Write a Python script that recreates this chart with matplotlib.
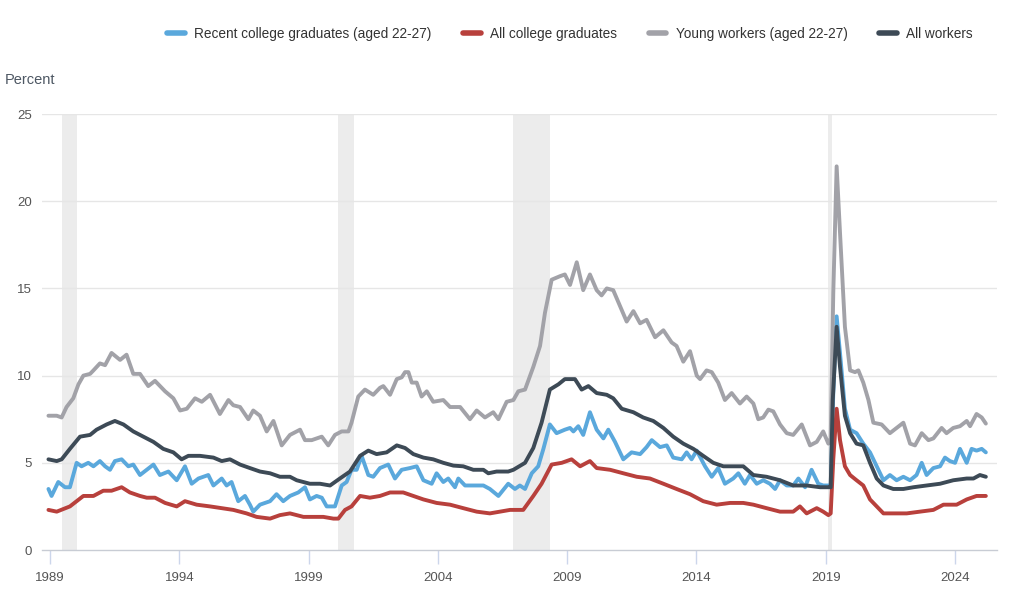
import matplotlib.pyplot as plt

plt.rcParams['font.family'] = ['Liberation Sans', 'DejaVu Sans']

# Data (x in the chart's displayed year units)
grads_years = [1988.94, 1989.06, 1989.32, 1989.58, 1989.77, 1990.03, 1990.22, 1990.48, 1990.68, 1990.93,
               1991.13, 1991.32, 1991.51, 1991.77, 1992.03, 1992.22, 1992.48, 1992.74, 1993.00, 1993.25,
               1993.58, 1993.90, 1994.22, 1994.48, 1994.74, 1995.12, 1995.32, 1995.64, 1995.83, 1996.02,
               1996.28, 1996.54, 1996.73, 1996.86, 1997.12, 1997.51, 1997.76, 1998.02, 1998.28, 1998.60,
               1998.86, 1999.05, 1999.31, 1999.51, 1999.70, 2000.02, 2000.28, 2000.47, 2000.66, 2000.86,
               2001.05, 2001.31, 2001.50, 2001.76, 2002.08, 2002.34, 2002.60, 2002.92, 2003.18, 2003.44,
               2003.76, 2003.95, 2004.21, 2004.40, 2004.66, 2004.79, 2005.05, 2005.44, 2005.76, 2006.01,
               2006.34, 2006.72, 2006.98, 2007.17, 2007.37, 2007.63, 2007.88, 2008.08, 2008.33, 2008.59,
               2008.91, 2009.11, 2009.24, 2009.43, 2009.62, 2009.88, 2010.14, 2010.40, 2010.59, 2010.85,
               2011.17, 2011.49, 2011.82, 2012.07, 2012.27, 2012.59, 2012.85, 2013.10, 2013.43, 2013.62,
               2013.81, 2014.01, 2014.33, 2014.59, 2014.84, 2015.10, 2015.42, 2015.62, 2015.87, 2016.07,
               2016.33, 2016.58, 2016.84, 2017.04, 2017.23, 2017.49, 2017.74, 2017.94, 2018.20, 2018.45,
               2018.71, 2018.90, 2019.10, 2019.19, 2019.29, 2019.42, 2019.55, 2019.74, 2019.94, 2020.19,
               2020.45, 2020.71, 2020.97, 2021.23, 2021.48, 2021.74, 2022.00, 2022.26, 2022.51, 2022.71,
               2022.90, 2023.16, 2023.42, 2023.61, 2023.80, 2024.00, 2024.19, 2024.45, 2024.64, 2024.83,
               2025.03, 2025.19]
grads_vals = [3.5, 3.1, 3.9, 3.6, 3.6, 5.0, 4.8, 5.0, 4.8, 5.1,
              4.8, 4.6, 5.1, 5.2, 4.8, 4.9, 4.3, 4.6, 4.9, 4.3,
              4.5, 4.0, 4.8, 3.8, 4.1, 4.3, 3.7, 4.1, 3.7, 3.9,
              2.8, 3.1, 2.6, 2.2, 2.6, 2.8, 3.2, 2.8, 3.1, 3.3,
              3.6, 2.9, 3.1, 3.0, 2.5, 2.5, 3.7, 3.9, 4.6, 4.6,
              5.4, 4.3, 4.2, 4.7, 4.9, 4.1, 4.6, 4.7, 4.8, 4.0,
              3.8, 4.4, 3.9, 4.1, 3.6, 4.1, 3.7, 3.7, 3.7, 3.5,
              3.1, 3.8, 3.5, 3.7, 3.5, 4.4, 4.8, 5.8, 7.2, 6.7,
              6.9, 7.0, 6.8, 7.1, 6.6, 7.9, 6.9, 6.4, 6.9, 6.2,
              5.2, 5.6, 5.5, 5.9, 6.3, 5.9, 6.0, 5.3, 5.2, 5.6,
              5.2, 5.7, 4.8, 4.2, 4.7, 3.8, 4.1, 4.4, 3.8, 4.3,
              3.8, 4.0, 3.8, 3.5, 4.0, 3.7, 3.7, 4.1, 3.6, 4.6,
              3.8, 3.7, 3.7, 3.7, 9.0, 13.4, 11.3, 8.1, 6.9, 6.7,
              6.1, 5.6, 4.8, 4.0, 4.3, 4.0, 4.2, 4.0, 4.3, 5.0,
              4.3, 4.7, 4.8, 5.3, 5.1, 5.0, 5.8, 5.0, 5.8, 5.7,
              5.8, 5.6]

allgrads_years = [1988.94, 1989.26, 1989.77, 1990.29, 1990.68, 1991.06, 1991.38, 1991.77, 1992.09, 1992.48,
                  1992.74, 1993.06, 1993.45, 1993.90, 1994.22, 1994.67, 1995.19, 1995.64, 1996.09, 1996.60,
                  1996.99, 1997.51, 1997.89, 1998.28, 1998.80, 1999.18, 1999.57, 1999.96, 2000.15, 2000.41,
                  2000.66, 2000.99, 2001.37, 2001.76, 2002.15, 2002.66, 2003.05, 2003.44, 2003.95, 2004.47,
                  2004.98, 2005.50, 2006.01, 2006.40, 2006.79, 2007.30, 2007.69, 2008.01, 2008.40, 2008.79,
                  2009.17, 2009.50, 2009.88, 2010.14, 2010.66, 2011.17, 2011.69, 2012.20, 2012.72, 2013.23,
                  2013.75, 2014.26, 2014.78, 2015.30, 2015.81, 2016.20, 2016.71, 2017.23, 2017.74, 2018.00,
                  2018.26, 2018.65, 2018.90, 2019.10, 2019.19, 2019.29, 2019.42, 2019.55, 2019.74, 2019.94,
                  2020.19, 2020.45, 2020.71, 2020.97, 2021.23, 2021.61, 2022.13, 2022.64, 2023.16, 2023.55,
                  2024.06, 2024.45, 2024.83, 2025.19]
allgrads_vals = [2.3, 2.2, 2.5, 3.1, 3.1, 3.4, 3.4, 3.6, 3.3, 3.1,
                 3.0, 3.0, 2.7, 2.5, 2.8, 2.6, 2.5, 2.4, 2.3, 2.1,
                 1.9, 1.8, 2.0, 2.1, 1.9, 1.9, 1.9, 1.8, 1.8, 2.3,
                 2.5, 3.1, 3.0, 3.1, 3.3, 3.3, 3.1, 2.9, 2.7, 2.6,
                 2.4, 2.2, 2.1, 2.2, 2.3, 2.3, 3.1, 3.8, 4.9, 5.0,
                 5.2, 4.8, 5.1, 4.7, 4.6, 4.4, 4.2, 4.1, 3.8, 3.5,
                 3.2, 2.8, 2.6, 2.7, 2.7, 2.6, 2.4, 2.2, 2.2, 2.5,
                 2.1, 2.4, 2.2, 2.0, 2.1, 5.2, 8.1, 6.3, 4.8, 4.3,
                 4.0, 3.7, 2.9, 2.5, 2.1, 2.1, 2.1, 2.2, 2.3, 2.6,
                 2.6, 2.9, 3.1, 3.1]

young_years = [1988.94, 1989.26, 1989.45, 1989.64, 1989.90, 1990.10, 1990.29, 1990.55, 1990.68, 1990.93,
               1991.13, 1991.38, 1991.71, 1991.96, 1992.22, 1992.48, 1992.80, 1993.06, 1993.45, 1993.77,
               1994.03, 1994.29, 1994.61, 1994.87, 1995.19, 1995.57, 1995.90, 1996.09, 1996.35, 1996.67,
               1996.86, 1997.12, 1997.38, 1997.64, 1997.96, 1998.28, 1998.54, 1998.67, 1998.86, 1999.12,
               1999.31, 1999.51, 1999.76, 2000.02, 2000.28, 2000.54, 2000.66, 2000.92, 2001.18, 2001.50,
               2001.76, 2001.89, 2002.15, 2002.41, 2002.60, 2002.73, 2002.86, 2002.99, 2003.18, 2003.37,
               2003.57, 2003.82, 2004.21, 2004.47, 2004.86, 2005.24, 2005.50, 2005.82, 2006.14, 2006.34,
               2006.66, 2006.92, 2007.11, 2007.37, 2007.69, 2007.95, 2008.14, 2008.40, 2008.72, 2008.91,
               2009.11, 2009.37, 2009.62, 2009.88, 2010.14, 2010.33, 2010.53, 2010.78, 2011.04, 2011.30,
               2011.56, 2011.82, 2012.07, 2012.40, 2012.72, 2013.04, 2013.23, 2013.49, 2013.75, 2014.01,
               2014.14, 2014.39, 2014.59, 2014.84, 2015.10, 2015.36, 2015.68, 2015.94, 2016.20, 2016.39,
               2016.58, 2016.78, 2016.97, 2017.23, 2017.49, 2017.74, 2018.07, 2018.39, 2018.65, 2018.90,
               2019.10, 2019.19, 2019.29, 2019.42, 2019.55, 2019.74, 2019.94, 2020.13, 2020.26, 2020.45,
               2020.65, 2020.84, 2021.16, 2021.48, 2021.74, 2022.00, 2022.26, 2022.45, 2022.71, 2022.97,
               2023.16, 2023.48, 2023.67, 2023.93, 2024.19, 2024.45, 2024.58, 2024.83, 2025.03, 2025.19]
young_vals = [7.7, 7.7, 7.6, 8.2, 8.7, 9.5, 10.0, 10.1, 10.3, 10.7,
              10.6, 11.3, 10.9, 11.2, 10.1, 10.1, 9.4, 9.7, 9.1, 8.7,
              8.0, 8.1, 8.7, 8.5, 8.9, 7.8, 8.6, 8.3, 8.2, 7.5,
              8.0, 7.7, 6.8, 7.4, 6.0, 6.6, 6.8, 6.9, 6.3, 6.3,
              6.4, 6.5, 6.0, 6.6, 6.8, 6.8, 7.3, 8.8, 9.2, 8.9,
              9.3, 9.4, 8.9, 9.8, 9.9, 10.2, 10.2, 9.6, 9.6, 8.8,
              9.1, 8.5, 8.6, 8.2, 8.2, 7.5, 8.0, 7.6, 7.9, 7.5,
              8.5, 8.6, 9.1, 9.2, 10.5, 11.7, 13.6, 15.5, 15.7, 15.8,
              15.2, 16.5, 14.9, 15.8, 14.9, 14.6, 15.0, 14.9, 14.0, 13.1,
              13.7, 13.0, 13.2, 12.2, 12.6, 11.9, 11.7, 10.8, 11.4, 10.0,
              9.8, 10.3, 10.2, 9.6, 8.6, 9.0, 8.4, 8.8, 8.4, 7.5,
              7.6, 8.05, 7.95, 7.2, 6.7, 6.6, 7.2, 6.0, 6.2, 6.8,
              6.1, 6.4, 14.75, 22.0, 18.2, 12.8, 10.3, 10.2, 10.3, 9.6,
              8.6, 7.3, 7.2, 6.7, 7.0, 7.3, 6.1, 6.0, 6.7, 6.3,
              6.4, 7.0, 6.7, 7.0, 7.1, 7.4, 7.1, 7.8, 7.6, 7.25]

workers_years = [1988.94, 1989.26, 1989.45, 1989.77, 1990.16, 1990.55, 1990.80, 1991.19, 1991.51, 1991.84,
                 1992.22, 1992.61, 1993.00, 1993.38, 1993.77, 1994.09, 1994.35, 1994.80, 1995.32, 1995.64,
                 1995.96, 1996.35, 1996.73, 1997.12, 1997.51, 1997.89, 1998.28, 1998.54, 1999.05, 1999.44,
                 1999.83, 2000.21, 2000.60, 2000.99, 2001.31, 2001.63, 2002.02, 2002.41, 2002.73, 2003.05,
                 2003.44, 2003.82, 2004.21, 2004.60, 2004.98, 2005.37, 2005.76, 2005.95, 2006.27, 2006.72,
                 2006.92, 2007.37, 2007.69, 2008.01, 2008.33, 2008.66, 2008.91, 2009.30, 2009.56, 2009.82,
                 2010.14, 2010.53, 2010.78, 2011.11, 2011.56, 2011.94, 2012.33, 2012.72, 2013.10, 2013.49,
                 2013.88, 2014.26, 2014.65, 2015.04, 2015.42, 2015.81, 2016.20, 2016.71, 2017.23, 2017.74,
                 2018.26, 2018.78, 2019.10, 2019.19, 2019.27, 2019.42, 2019.55, 2019.74, 2019.94, 2020.19,
                 2020.45, 2020.71, 2020.97, 2021.23, 2021.61, 2022.00, 2022.39, 2022.90, 2023.42, 2023.93,
                 2024.45, 2024.71, 2024.96, 2025.19]
workers_vals = [5.2, 5.1, 5.2, 5.8, 6.5, 6.6, 6.9, 7.2, 7.4, 7.2,
                6.8, 6.5, 6.2, 5.8, 5.6, 5.2, 5.4, 5.4, 5.3, 5.1,
                5.2, 4.9, 4.7, 4.5, 4.4, 4.2, 4.2, 4.0, 3.8, 3.8,
                3.7, 4.1, 4.5, 5.4, 5.7, 5.5, 5.6, 6.0, 5.85, 5.5,
                5.3, 5.2, 5.0, 4.84, 4.8, 4.6, 4.6, 4.4, 4.5, 4.5,
                4.6, 5.0, 5.85, 7.3, 9.2, 9.5, 9.8, 9.8, 9.2, 9.4,
                9.0, 8.9, 8.7, 8.1, 7.9, 7.6, 7.4, 7.0, 6.5, 6.1,
                5.8, 5.4, 5.0, 4.8, 4.8, 4.8, 4.3, 4.2, 4.0, 3.7,
                3.7, 3.6, 3.6, 3.6, 8.6, 12.8, 10.5, 7.7, 6.7, 6.1,
                6.0, 5.0, 4.1, 3.7, 3.5, 3.5, 3.6, 3.7, 3.8, 4.0,
                4.1, 4.1, 4.3, 4.2]

recessions = [(1989.46, 1990.04), (2000.14, 2000.76), (2006.90, 2008.33), (2019.08, 2019.24)]
tick_years = [1989, 1994, 1999, 2004, 2009, 2014, 2019, 2024]

fig = plt.figure(figsize=(10.24, 5.97), dpi=100)
ax = fig.add_axes([0.041, 0.0787, 0.9326, 0.7303])

for start, end in recessions:
    ax.axvspan(start, end, color='#ececec', lw=0, zorder=0)

for v in [5, 10, 15, 20, 25]:
    ax.axhline(v, color='#e6e6e6', lw=1, zorder=0.5)

lw = 2.8
ax.plot(grads_years, grads_vals, color='#5aa8dc', lw=lw, label='Recent college graduates (aged 22-27)',
        solid_joinstyle='round', solid_capstyle='round', zorder=2)
ax.plot(allgrads_years, allgrads_vals, color='#b8403c', lw=lw, label='All college graduates',
        solid_joinstyle='round', solid_capstyle='round', zorder=3)
ax.plot(young_years, young_vals, color='#a2a2a8', lw=lw, label='Young workers (aged 22-27)',
        solid_joinstyle='round', solid_capstyle='round', zorder=2.5)
ax.plot(workers_years, workers_vals, color='#3d4a56', lw=lw, label='All workers',
        solid_joinstyle='round', solid_capstyle='round', zorder=4)

ax.set_xlim(1988.69, 2025.62)
ax.set_ylim(0, 25)
ax.set_xticks(tick_years)
ax.set_xticklabels([str(y) for y in tick_years])
ax.set_yticks([0, 5, 10, 15, 20, 25])
for s in ['top', 'right', 'left']:
    ax.spines[s].set_visible(False)
ax.spines['bottom'].set_color('#c8ccd4')
ax.spines['bottom'].set_linewidth(1)
ax.tick_params(axis='x', colors='#ccd6eb', length=10, width=1, labelcolor='#555555', labelsize=9.5, pad=6)
ax.tick_params(axis='y', length=0, labelcolor='#555555', labelsize=9.5, pad=7)

fig.text(0.005, 0.866, 'Percent', fontsize=10.5, color='#4d5763', ha='left', va='center')

leg = fig.legend(loc='center right', bbox_to_anchor=(0.962, 0.943), ncol=4, frameon=False,
                 fontsize=9.8, handlelength=1.3, handletextpad=0.7, columnspacing=2.3)
for line in leg.get_lines():
    line.set_linewidth(4)
    line.set_solid_capstyle('round')
for t in leg.get_texts():
    t.set_color('#333333')

fig.savefig('out.png', dpi=100)
